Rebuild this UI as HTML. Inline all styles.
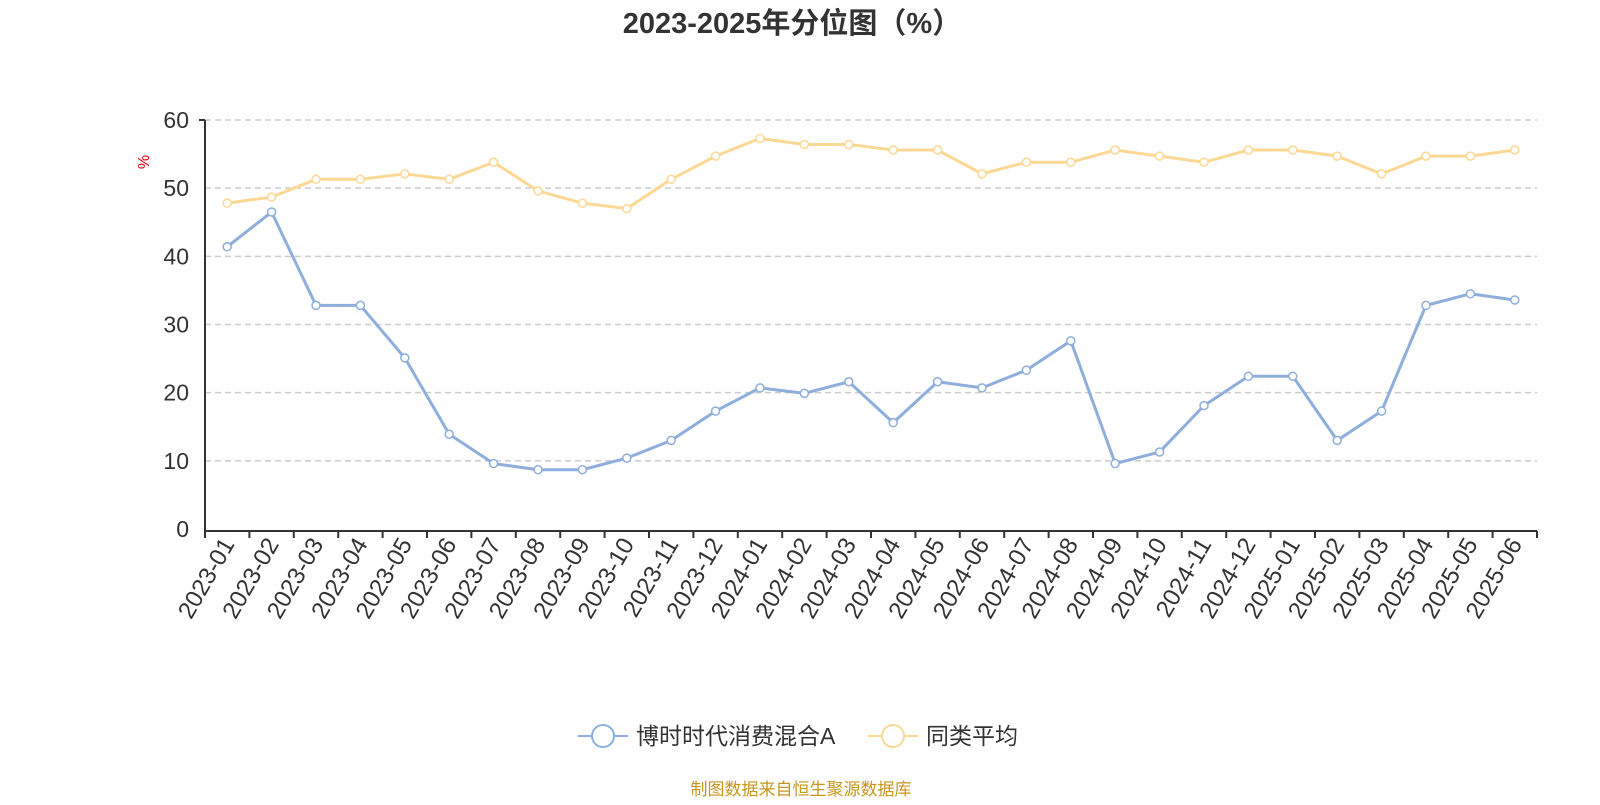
<!DOCTYPE html>
<html><head><meta charset="utf-8"><style>
body{margin:0;background:#fff;}
svg text{font-family:"Liberation Sans","Noto Sans CJK SC",sans-serif;}
</style></head><body>
<svg id="chart" width="1600" height="800" xmlns="http://www.w3.org/2000/svg">
<text x="792" y="33" text-anchor="middle" font-size="29" font-weight="bold" fill="#333">2023-2025年分位图（%）</text>
<text x="0" y="0" transform="translate(149,162) rotate(-90)" text-anchor="middle" font-size="16" fill="#e00">%</text>
<g id="grid"></g><g id="axes"></g><g id="series"></g>
<g>
<g>
<line x1="578" y1="736" x2="628" y2="736" stroke="#8eaedc" stroke-width="2"/>
<circle cx="603" cy="736" r="11" fill="#fff" stroke="#8eaedc" stroke-width="2"/>
<text x="636" y="744" font-size="23" fill="#333">博时时代消费混合A</text></g>
<g>
<line x1="868" y1="736" x2="918" y2="736" stroke="#fdd894" stroke-width="2"/>
<circle cx="893" cy="736" r="11" fill="#fff" stroke="#fdd894" stroke-width="2"/>
<text x="926" y="744" font-size="23" fill="#333">同类平均</text></g>
</g>
<text x="801" y="795" text-anchor="middle" font-size="17" fill="#c8961e">制图数据来自恒生聚源数据库</text>
</svg>
<script>
const categories=["2023-01","2023-02","2023-03","2023-04","2023-05","2023-06","2023-07","2023-08","2023-09","2023-10","2023-11","2023-12","2024-01","2024-02","2024-03","2024-04","2024-05","2024-06","2024-07","2024-08","2024-09","2024-10","2024-11","2024-12","2025-01","2025-02","2025-03","2025-04","2025-05","2025-06"];
const fundValues=[41.4,46.5,32.8,32.8,25.1,13.9,9.6,8.7,8.7,10.4,13.0,17.3,20.7,19.9,21.6,15.6,21.6,20.7,23.3,27.6,9.6,11.3,18.1,22.4,22.4,13.0,17.3,32.8,34.5,33.6];
const avgValues=[47.8,48.7,51.3,51.3,52.1,51.3,53.8,49.6,47.8,47.0,51.3,54.7,57.3,56.4,56.4,55.6,55.6,52.1,53.8,53.8,55.6,54.7,53.8,55.6,55.6,54.7,52.1,54.7,54.7,55.6];
const yTicks=[0,10,20,30,40,50,60];
const NS="http://www.w3.org/2000/svg";
const X0=205,X1=1537,Y0=529,Y1=120;
const bw=(X1-X0)/categories.length;
const xs=i=>X0+bw*(i+0.5);
const ys=v=>Y0-(v/60)*(Y0-Y1);
function mk(tag,attrs,parent){const e=document.createElementNS(NS,tag);for(const k in attrs)e.setAttribute(k,attrs[k]);parent.appendChild(e);return e;}
const grid=document.getElementById('grid'),axes=document.getElementById('axes'),ser=document.getElementById('series');
yTicks.forEach(t=>{
 if(t>0){const g=mk('line',{x1:X0,x2:X1,y1:ys(t),y2:ys(t),stroke:'#ccc','stroke-dasharray':'6,4','stroke-width':1.5},grid);
 
 }
 const l=mk('text',{x:X0-16,y:ys(t)+8,'text-anchor':'end','font-size':23,fill:'#333'},axes);l.textContent=t;
 
 
});
const ya=mk('line',{x1:X0,x2:X0,y1:Y1,y2:Y0+2,stroke:'#333','stroke-width':2},axes);


mk('line',{x1:X0-6,x2:X0,y1:Y1,y2:Y1,stroke:'#333','stroke-width':2},axes);
const xa=mk('line',{x1:X0,x2:X1,y1:Y0+2,y2:Y0+2,stroke:'#333','stroke-width':2},axes);


for(let i=0;i<=categories.length;i++){mk('line',{x1:X0+bw*i,x2:X0+bw*i,y1:Y0+2,y2:Y0+9,stroke:'#333','stroke-width':2},axes);}
categories.forEach((c,i)=>{
 const x=xs(i)+8,y=Y0+15;
 const t=mk('text',{x:0,y:0,transform:`translate(${x},${y}) rotate(-60)`,'text-anchor':'end','font-size':24,fill:'#333'},axes);
 t.textContent=c;
 
 
});
function series(vals,color,name){
 const p=mk('polyline',{points:vals.map((v,i)=>xs(i)+','+ys(v)).join(' '),fill:'none',stroke:color,'stroke-width':3},ser);
 
 
 vals.forEach((v,i)=>{const c=mk('circle',{cx:xs(i),cy:ys(v),r:4,fill:'#fff',stroke:color,'stroke-width':1.5},ser);
 
 });
}
series(avgValues,'#fdd894','average');
series(fundValues,'#8eaedc','fund');
</script>
</body></html>
